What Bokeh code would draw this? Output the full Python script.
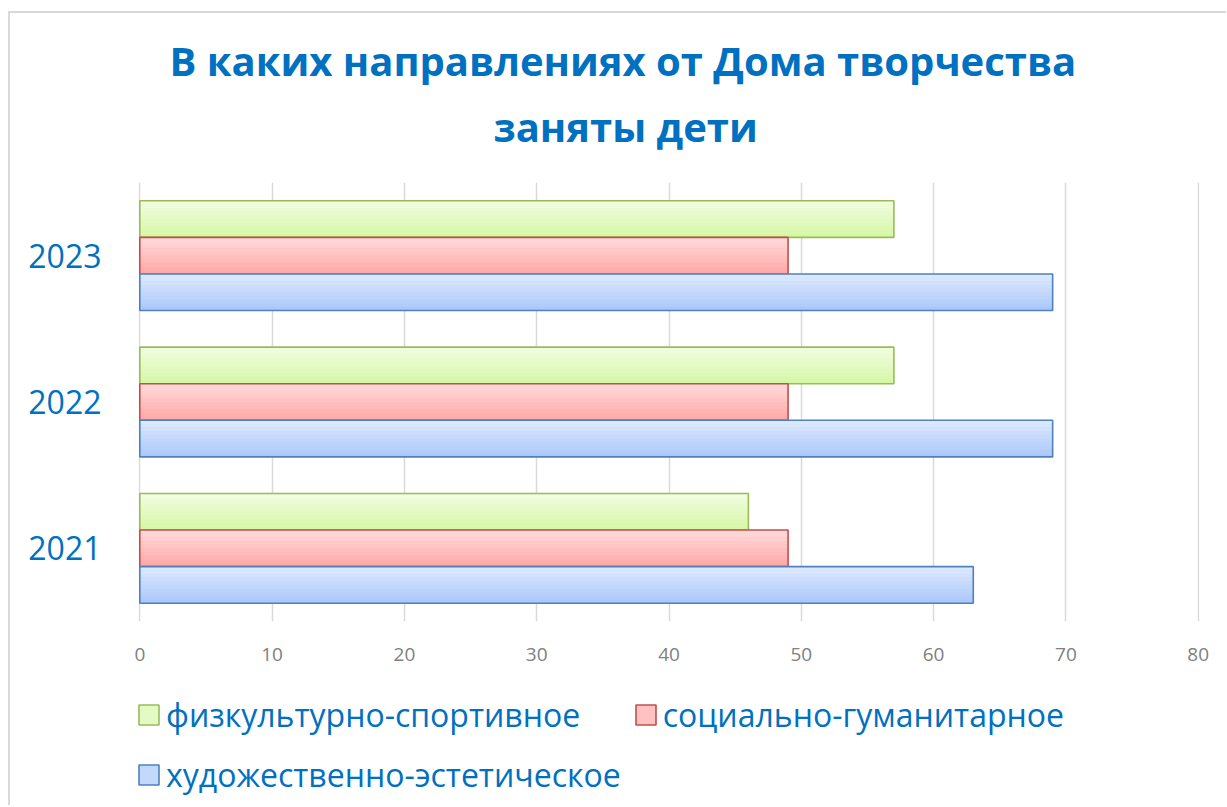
from bokeh.plotting import figure
from bokeh.layouts import column
from bokeh.models import (ColumnDataSource, FactorRange, Legend, LegendItem,
                          Range1d, FixedTicker, Title)
from bokeh.transform import dodge
from bokeh.embed import file_html
from bokeh.resources import INLINE

# ---- data ----
years = ["2021", "2022", "2023"]
series_names = ["физкультурно-спортивное", "социально-гуманитарное", "художественно-эстетическое"]
sport = [46, 57, 57]
social = [49, 49, 49]
art = [63, 69, 69]
x_ticks = [0, 10, 20, 30, 40, 50, 60, 70, 80]
title_lines = ["В каких направлениях от Дома творчества", "заняты дети"]

BLUE_TEXT = "#0070C0"
FONT = "Open Sans"
W = 1216

src = ColumnDataSource(dict(year=years, sport=sport, social=social, art=art))

p = figure(title=None, y_range=FactorRange(*years), x_range=Range1d(-0.1, 80.1),
           width=W, height=668, output_backend="svg", toolbar_location=None,
           min_border_left=128, min_border_right=27, min_border_top=169,
           min_border_bottom=60)
p.outline_line_color = None
p.background_fill_color = "white"
p.border_fill_color = "white"

p.ygrid.grid_line_color = None
p.xgrid.grid_line_color = "#d9d9d9"
p.xgrid.grid_line_width = 1.5
p.xaxis.ticker = FixedTicker(ticks=x_ticks)

for ax in (p.xaxis, p.yaxis):
    ax.axis_line_color = None
    ax.major_tick_line_color = None
    ax.minor_tick_line_color = None

p.xaxis.major_label_text_color = "#808080"
p.xaxis.major_label_text_font = FONT
p.xaxis.major_label_text_font_size = "19px"
p.xaxis.major_label_standoff = 20

p.yaxis.major_label_text_color = BLUE_TEXT
p.yaxis.major_label_text_font = FONT
p.yaxis.major_label_text_font_size = "32px"
p.yaxis.major_label_standoff = 31


def hexmix(c1, c2, t):
    a = [int(c1[i:i + 2], 16) for i in (1, 3, 5)]
    b = [int(c2[i:i + 2], 16) for i in (1, 3, 5)]
    return "#" + "".join("%02x" % round(x + (y - x) * t) for x, y in zip(a, b))


H = 0.25
NSLICE = 10
styles = [  # (column, offset, top colour, bottom colour, border)
    ("sport", 0.25, "#f2fde4", "#d5f7a3", "#9bbb59"),
    ("social", 0.0, "#ffdcdc", "#ffa6a6", "#c0504d"),
    ("art", -0.25, "#dfeafe", "#a9c6fa", "#4f81bd"),
]
for (col, off, ctop, cbot, cline) in styles:
    p.hbar(y=dodge("year", off, range=p.y_range), left=0, right=col, height=H,
           fill_color=hexmix(ctop, cbot, 0.5), line_color=None, source=src)
    for k in range(NSLICE):
        t = (k + 0.5) / NSLICE
        yoff = off + H / 2 - (k + 0.5) * H / NSLICE
        p.hbar(y=dodge("year", yoff, range=p.y_range), left=0, right=col,
               height=H / NSLICE * 1.05, fill_color=hexmix(ctop, cbot, t),
               line_color=None, source=src)
    p.hbar(y=dodge("year", off, range=p.y_range), left=0, right=col, height=H,
           fill_color=None, line_color=cline, line_width=1.6, source=src)

# title lines: the line closest to the plot is added first
p.add_layout(Title(text=title_lines[1], align="left", offset=355, text_font=FONT,
                   text_font_size="40px", text_font_style="bold", text_color=BLUE_TEXT,
                   standoff=58), "above")
p.add_layout(Title(text=title_lines[0], align="left", offset=31, text_font=FONT,
                   text_font_size="40px", text_font_style="bold", text_color=BLUE_TEXT,
                   standoff=-40), "above")

# ---- legend strip (separate panel below the chart) ----
lg = figure(width=W, height=124, output_backend="svg", toolbar_location=None,
            x_range=Range1d(0, 1), y_range=Range1d(0, 1),
            x_axis_location=None, y_axis_location=None,
            min_border=0)
lg.grid.visible = False
lg.outline_line_color = None
lg.background_fill_color = "white"
lg.border_fill_color = "white"

items = []
for (col, off, ctop, cbot, cline), name in zip(styles, series_names):
    proxy = lg.hbar(y=col, left=0, right=col, height=1, source=src, visible=False,
                    fill_color=hexmix(ctop, cbot, 0.5), line_color=cline, line_width=1.6)
    items.append(LegendItem(label=name, renderers=[proxy]))

legend = Legend(items=items, orientation="horizontal", ncols=2, location=(-2, 7),
                glyph_width=25, glyph_height=25, label_standoff=5, spacing=12,
                label_height=48, padding=0, margin=0,
                label_text_font=FONT, label_text_font_size="32px",
                label_text_color=BLUE_TEXT, inactive_fill_alpha=0,
                background_fill_alpha=0, border_line_color=None)
lg.add_layout(legend, "center")

layout = column(p, lg, spacing=0,
                styles={"margin-left": "8px", "margin-top": "11px",
                        "border-left": "2px solid #d9d9d9", "border-top": "2px solid #d9d9d9"})

open("out.html", "w").write(file_html(layout, INLINE))
